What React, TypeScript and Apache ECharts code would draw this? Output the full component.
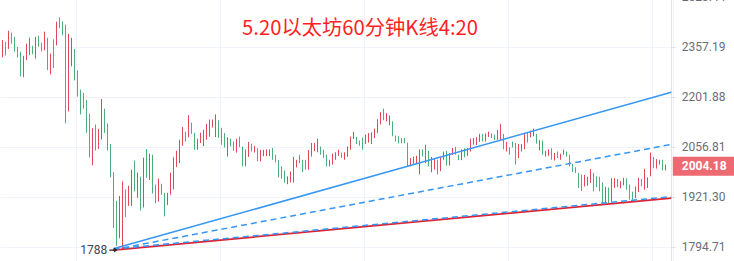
import React, { useEffect, useRef } from 'react';
import * as echarts from 'echarts';

const chartTitle = '5.20以太坊60分钟K线4:20';

// candle direction: R = up (red), G = down (green)
const candleDirs = [
  'RGRGGGGRRR', 'GRGGRGRGRG', 'GGRRGGGGGG', 'RGRRGGGGGR', 'RGRRGRGRGR',
  'GGRGGRRRRR', 'RGRGGRRRRR', 'RRGGGRGGRG', 'GRRGRGRRRR', 'GGGGGRRRRG',
  'GGRRRRGGGR', 'RRRGRRRRGG', 'GRRRRRRGRR', 'GGGGGGRRRR', 'GRGRRGRRGR',
  'RGGRGRRRRR', 'GRRGGRRGRG', 'GGRRRGRRGR', 'GRRGRGRRGG', 'GGGGRRRGGG',
  'GRGRRGRRGG', 'GRRGRRRGRR', 'GR',
].join('');

const candleHighs = [
  2381, 2375, 2411, 2405, 2391, 2358, 2343, 2330, 2369, 2388,
  2362, 2391, 2394, 2372, 2408, 2388, 2337, 2383, 2441, 2455,
  2442, 2431, 2401, 2388, 2352, 2284, 2225, 2215, 2194, 2153,
  2111, 2122, 2109, 2197, 2168, 2125, 2066, 1988, 1912, 1925,
  1963, 1942, 1952, 1995, 2020, 1987, 1976, 2028, 2052, 2039,
  2036, 1955, 1971, 1957, 1933, 1933, 1987, 2029, 2047, 2078,
  2115, 2101, 2149, 2127, 2098, 2081, 2098, 2107, 2124, 2136,
  2136, 2151, 2134, 2112, 2097, 2085, 2081, 2073, 2081, 2087,
  2059, 2051, 2072, 2067, 2061, 2054, 2050, 2050, 2051, 2051,
  2055, 2036, 2022, 2004, 1993, 1977, 1990, 2030, 2022, 2036,
  2022, 2022, 2049, 2069, 2069, 2081, 2059, 2050, 2036, 2022,
  2039, 2043, 2050, 2042, 2043, 2059, 2087, 2101, 2086, 2076,
  2084, 2093, 2097, 2099, 2110, 2137, 2158, 2168, 2155, 2148,
  2131, 2090, 2088, 2083, 2083, 2070, 2027, 2031, 2033, 2051,
  2051, 2064, 2047, 2030, 2024, 2022, 2029, 2045, 2047, 2041,
  2055, 2058, 2036, 2051, 2054, 2055, 2081, 2083, 2085, 2095,
  2095, 2096, 2101, 2096, 2093, 2106, 2124, 2095, 2072, 2057,
  2073, 2069, 2066, 2066, 2095, 2099, 2104, 2110, 2095, 2077,
  2076, 2047, 2051, 2054, 2041, 2045, 2039, 2050, 2045, 2036,
  2011, 2002, 1986, 1982, 1981, 1976, 1997, 1986, 1977, 1976,
  1961, 1949, 1947, 1972, 1972, 1970, 1964, 1973, 1972, 1955,
  1936, 1950, 1973, 1970, 1997, 1974, 2042, 2030, 2024, 2022,
  2022, 2009,
];

const candleLows = [
  2325, 2331, 2352, 2369, 2343, 2325, 2265, 2263, 2316, 2333,
  2335, 2321, 2359, 2344, 2347, 2285, 2272, 2292, 2363, 2419,
  2396, 2125, 2160, 2297, 2253, 2204, 2151, 2168, 2098, 2029,
  2007, 2048, 2052, 2079, 2097, 2048, 1974, 1842, 1798, 1817,
  1788, 1870, 1899, 1899, 1937, 1920, 1887, 1895, 1973, 1967,
  1931, 1906, 1910, 1928, 1872, 1901, 1928, 1942, 2002, 2013,
  2061, 2073, 2085, 2095, 2050, 2050, 2069, 2060, 2078, 2087,
  2113, 2086, 2083, 2064, 2056, 2031, 2059, 2047, 2042, 2057,
  2004, 2004, 2030, 2045, 2042, 2018, 2018, 2032, 2032, 2032,
  2022, 2015, 1974, 1971, 1960, 1956, 1961, 1960, 2001, 2013,
  1988, 1995, 1995, 2031, 2046, 2043, 2036, 2027, 2004, 2004,
  2009, 2022, 2033, 2027, 2022, 2030, 2050, 2080, 2066, 2061,
  2050, 2066, 2070, 2066, 2083, 2097, 2122, 2134, 2131, 2120,
  2088, 2073, 2068, 2068, 2068, 2004, 2004, 2011, 2011, 1982,
  2031, 2013, 2004, 1988, 1995, 1982, 1991, 2022, 2006, 2006,
  2035, 2036, 2021, 2021, 2029, 2033, 2045, 2064, 2063, 2072,
  2073, 2073, 2086, 2083, 2077, 2078, 2076, 2051, 2045, 2036,
  2056, 2009, 2027, 2045, 2051, 2070, 2085, 2088, 2067, 2048,
  2036, 2031, 2033, 2022, 2020, 2027, 2022, 2036, 2031, 2004,
  1989, 1986, 1946, 1938, 1950, 1952, 1959, 1937, 1948, 1937,
  1906, 1906, 1906, 1910, 1946, 1948, 1945, 1953, 1941, 1915,
  1915, 1919, 1935, 1950, 1941, 1946, 1977, 1999, 1998, 2009,
  1993, 1993,
];

const lastPrice = 2004.18;
const lowMarkPrice = 1788;
const lowMarkIndex = 37;
const emptySlots = 2;

// y tick labels for log steps -1 .. 6 (outer ones lie outside the visible area)
const yTickLabels = ['', '1794.71', '1921.30', '2056.81', '2201.88', '2357.19', '2523.44', ''];
const basePrice = 1794.71;
const stepRatio = 1.070533;

// trend lines: [category index, price]
const trendSolidBlue: [number, number][] = [[37, 1791], [223, 2217]];
const trendDashedBlue: [number, number][] = [[37, 1789], [223, 2065]];
const trendRed: [number, number][] = [[37, 1788], [223, 1919]];
const trendDashedBlueLow: [number, number][] = [[37, 1790.5], [223, 1923]];

const RED = '#e3475a';
const GREEN = '#4caf7e';
const BLUE = '#3596f4';

const toU = (p: number) => Math.log(p / basePrice) / Math.log(stepRatio);

export default function App() {
  const ref = useRef<HTMLDivElement>(null);
  useEffect(() => {
    if (!ref.current) return;
    const chart = echarts.init(ref.current, null, { renderer: 'svg' });
    const total = candleHighs.length + emptySlots;
    const categories = Array.from({ length: total }, (_, i) => 'h' + i);
    const ohlc = candleHighs.map((h, i) => {
      const l = candleLows[i];
      const up = candleDirs[i] === 'R';
      const o = up ? l : h;
      const c = up ? h : l;
      return [toU(o), toU(c), toU(l), toU(h)];
    });
    const line = (pts: [number, number][]) => pts.map(([x, p]) => [x, toU(p)]);
    chart.setOption({
      animation: false,
      title: {
        text: chartTitle,
        left: 237,
        top: 81,
        textStyle: { color: '#ff1f1f', fontSize: 20.3, fontWeight: 'normal', fontFamily: '"Noto Sans CJK SC", sans-serif' },
      },
      grid: { left: 0.8, right: 61.2, top: 17.3, bottom: 52.7 },
      xAxis: {
        type: 'category',
        data: categories,
        boundaryGap: true,
        axisLine: { show: false },
        axisTick: { show: false },
        axisLabel: { show: false },
        splitLine: {
          show: true,
          interval: (idx: number) => idx % 48 === 25,
          lineStyle: { color: '#f0f3fa', width: 1 },
        },
      },
      yAxis: {
        type: 'value',
        position: 'right',
        min: -1,
        max: 6,
        interval: 1,
        offset: -2,
        axisLine: { show: true, lineStyle: { color: '#e0e3eb' } },
        axisTick: { show: true, length: 5, lineStyle: { color: '#e0e3eb' } },
        axisLabel: {
          margin: 11,
          color: '#6a6d78',
          fontSize: 12,
          fontFamily: 'Roboto',
          formatter: (v: number) => yTickLabels[Math.round(v) + 1] || '',
        },
        splitLine: { show: true, lineStyle: { color: '#f0f3fa', width: 1 } },
      },
      series: [
        {
          type: 'candlestick',
          data: ohlc,
          barWidth: 1,
          large: false,
          clip: false,
          itemStyle: { color: RED, color0: GREEN, borderColor: RED, borderColor0: GREEN, borderWidth: 1 },
          markLine: {
            silent: true,
            symbol: ['none', 'none'],
            lineStyle: { color: 'rgba(0,0,0,0)', width: 0 },
            label: {
              show: true,
              position: 'end',
              distance: 0,
              formatter: lastPrice.toFixed(2),
              backgroundColor: '#ee6a72',
              color: '#ffffff',
              fontWeight: 'bold',
              fontSize: 12,
              fontFamily: 'Roboto',
              padding: [4, 9, 3, 9],
            },
            data: [{ yAxis: toU(lastPrice) }],
          },
          markPoint: {
            silent: true,
            symbol: 'path://M0,4L6,4L6,6L0,6Z M6,1L10,5L6,9Z',
            symbolSize: [8, 5],
            itemStyle: { color: '#222' },
            label: {
              show: true,
              position: 'left',
              distance: 2,
              formatter: String(lowMarkPrice),
              color: '#434651',
              fontSize: 12,
              fontFamily: 'Roboto',
            },
            data: [{ coord: [lowMarkIndex, toU(lowMarkPrice)] }],
          },
        },
        {
          type: 'line', data: line(trendSolidBlue), symbol: 'none', silent: true,
          lineStyle: { color: BLUE, width: 1.5 },
        },
        {
          type: 'line', data: line(trendDashedBlue), symbol: 'none', silent: true,
          lineStyle: { color: BLUE, width: 1.5, type: [6, 4] },
        },
        {
          type: 'line', data: line(trendRed), symbol: 'none', silent: true,
          lineStyle: { color: '#dd2233', width: 1.8 },
        },
        {
          type: 'line', data: line(trendDashedBlueLow), symbol: 'none', silent: true,
          lineStyle: { color: BLUE, width: 1.5, type: [6, 4] },
        },
      ],
    });
    return () => chart.dispose();
  }, []);
  return (
    <div style={{ position: 'fixed', left: 0, top: 0, width: 734, height: 261, overflow: 'hidden', background: '#fff' }}>
      <div ref={ref} style={{ position: 'absolute', left: 0, top: -70, width: 734, height: 420 }} />
    </div>
  );
}
